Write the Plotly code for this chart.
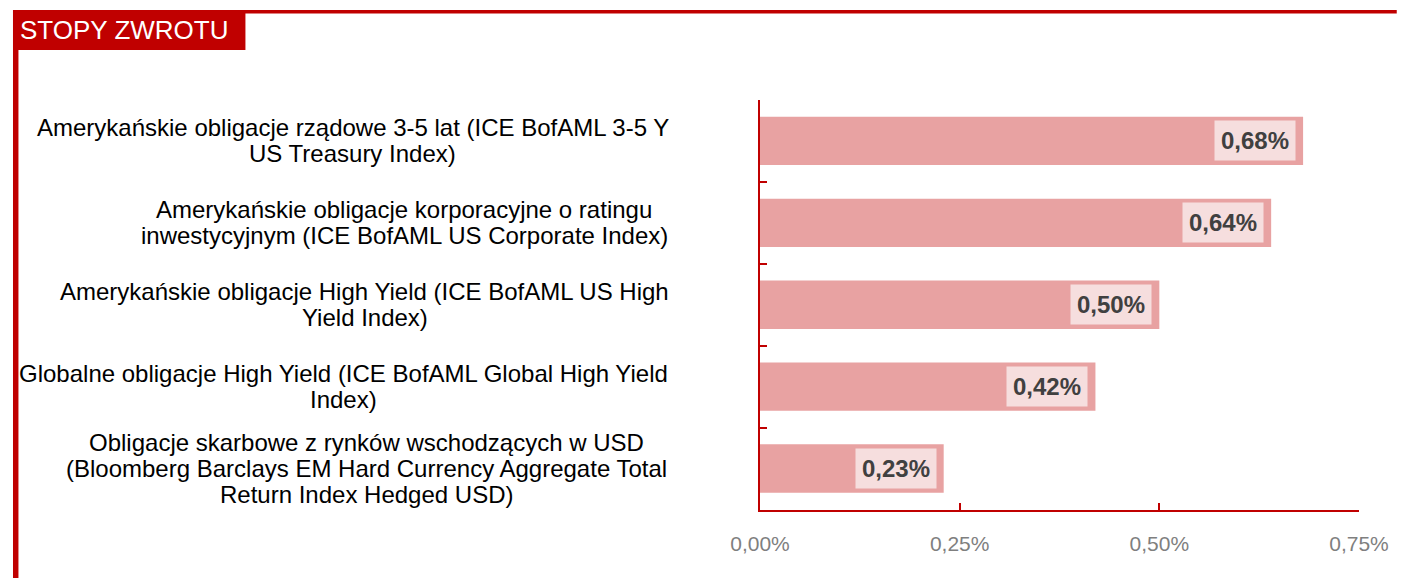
import plotly.graph_objects as go

# ---------------- data ----------------
categories = [
    "Amerykańskie obligacje rządowe 3-5 lat (ICE BofAML 3-5 Y<br>US Treasury Index)",
    "Amerykańskie obligacje korporacyjne o ratingu<br>inwestycyjnym (ICE BofAML US Corporate Index)",
    "Amerykańskie obligacje High Yield (ICE BofAML US High<br>Yield Index)",
    "Globalne obligacje High Yield (ICE BofAML Global High Yield<br>Index)",
    "Obligacje skarbowe z rynków wschodzących w USD<br>(Bloomberg Barclays EM Hard Currency Aggregate Total<br>Return Index Hedged USD)",
]
values = [0.68, 0.64, 0.50, 0.42, 0.23]
value_labels = ["0,68%", "0,64%", "0,50%", "0,42%", "0,23%"]
x_tickvals = [0, 0.25, 0.5, 0.75]
x_ticktext = ["0,00%", "0,25%", "0,50%", "0,75%"]
title_text = "STOPY ZWROTU"

# ---------------- layout helpers ----------------
W, H = 1401, 578
ML, MR, MT, MB = 760, 38, 100, 68
PW, PH = W - ML - MR, H - MT - MB
RED = "#C00000"
BAR = "#E8A2A2"
BOX = "#F6DEDE"

def px(x):
    return (x - ML) / PW

def py(y):
    return (H - MB - y) / PH

label_centers = [350, 402, 362, 341, 364]
line_step = 26

fig = go.Figure()
fig.add_trace(go.Bar(
    x=values, y=categories, orientation="h",
    marker=dict(color=BAR, line=dict(width=0)),
    width=0.59, hoverinfo="skip",
))

annotations = []
# value labels
for c, v, t in zip(categories, values, value_labels):
    annotations.append(dict(
        x=v, y=c, xref="x", yref="y", text="<b>" + t + "</b>",
        xanchor="right", yanchor="middle", xshift=-7, showarrow=False,
        bgcolor=BOX, borderpad=6,
        font=dict(family="Liberation Sans, Arial", size=24, color="#404040"),
    ))
# category labels (each line separately, centered on block)
for c, cx in zip(categories, label_centers):
    lines = c.split("<br>")
    n = len(lines)
    for i, ln in enumerate(lines):
        annotations.append(dict(
            x=px(cx), y=c, xref="paper", yref="y", text=ln,
            xanchor="center", yanchor="middle",
            yshift=((n - 1) / 2 - i) * line_step, showarrow=False,
            font=dict(family="Liberation Sans, Arial", size=24, color="#000000"),
        ))
# title
annotations.append(dict(
    x=px(13), y=py(30), xref="paper", yref="paper", text=title_text,
    xanchor="left", yanchor="middle", showarrow=False,
    font=dict(family="Liberation Sans, Arial", size=26, color="#FFFFFF"),
))

shapes = [
    dict(type="rect", xref="paper", yref="paper", x0=px(8), x1=px(W), y0=py(13.5), y1=py(10),
         fillcolor=RED, line=dict(width=0), layer="above"),
    dict(type="rect", xref="paper", yref="paper", x0=px(8), x1=px(13.5), y0=py(H), y1=py(10),
         fillcolor=RED, line=dict(width=0), layer="above"),
    dict(type="rect", xref="paper", yref="paper", x0=px(8), x1=px(242), y0=py(50), y1=py(10),
         fillcolor=RED, line=dict(width=0), layer="above"),
]

fig.update_layout(
    width=W, height=H,
    margin=dict(l=ML, r=MR, t=MT, b=MB, pad=0),
    paper_bgcolor="white", plot_bgcolor="white",
    showlegend=False,
    annotations=annotations,
    shapes=shapes,
    xaxis=dict(
        range=[0, 0.75], tickvals=x_tickvals, ticktext=x_ticktext,
        showgrid=False, zeroline=False,
        showline=True, linecolor=RED, linewidth=2,
        ticks="inside", ticklen=7, tickcolor=RED, tickwidth=2,
        tickfont=dict(family="Liberation Sans, Arial", size=21, color="#7F7F7F"),
        ticklabelstandoff=14,
        fixedrange=True,
    ),
    yaxis=dict(
        type="category", categoryorder="array", categoryarray=categories,
        autorange="reversed",
        showticklabels=False, showgrid=False, zeroline=False,
        showline=True, linecolor=RED, linewidth=2,
        ticks="inside", ticklen=7, tickcolor=RED, tickwidth=2,
        tickson="boundaries",
        fixedrange=True,
    ),
)

fig.write_html("out.html")
